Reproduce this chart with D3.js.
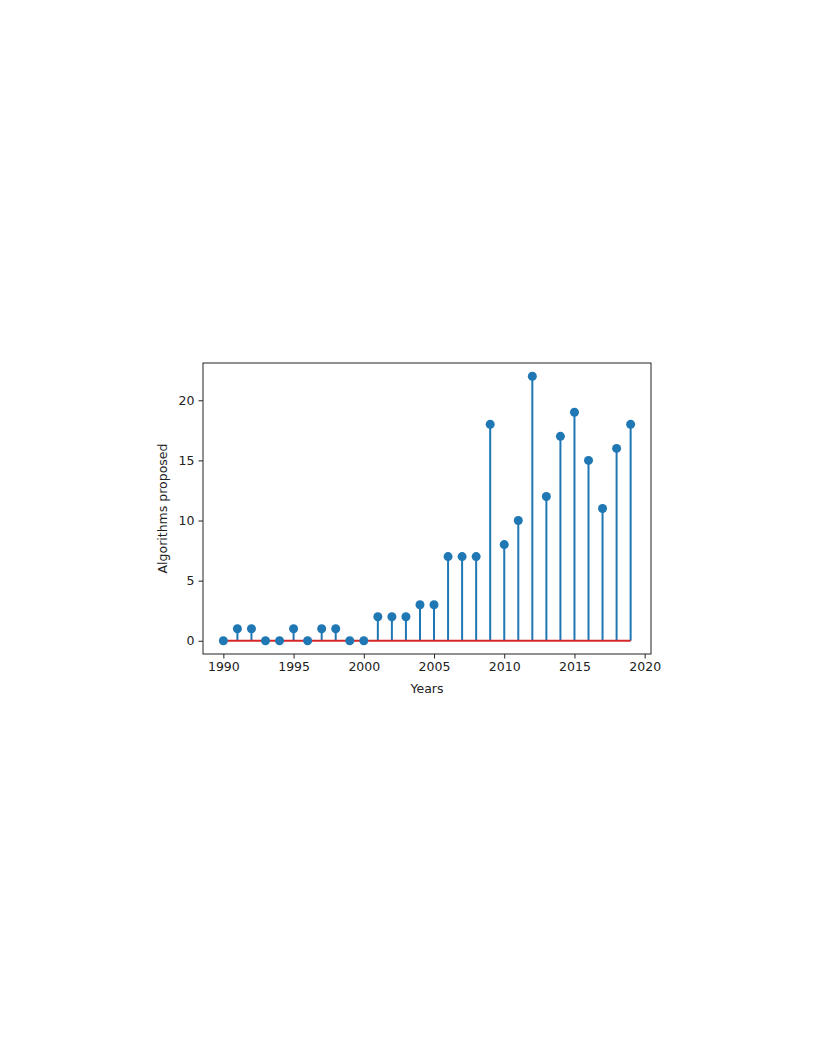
<!DOCTYPE html>
<html>
<head>
<meta charset="utf-8">
<script src="https://cdn.jsdelivr.net/npm/d3@7"></script>
<style>
  body { margin: 0; background: #fff; }
  text { font-family: "DejaVu Sans", sans-serif; fill: #222; }
</style>
</head>
<body>
<script>
// years and number of algorithms proposed each year
const years = d3.range(1990, 2020);
const counts = [0, 1, 1, 0, 0, 1, 0, 1, 1, 0,
                0, 2, 2, 2, 3, 3, 7, 7, 7, 18,
                8, 10, 22, 12, 17, 19, 15, 11, 16, 18];
const xTicks = [1990, 1995, 2000, 2005, 2010, 2015, 2020];
const yTicks = [0, 5, 10, 15, 20];

const width = 817;
const height = 1058;
const margin = { left: 203, top: 363, right: 817 - 651, bottom: 1058 - 654 };

const svg = d3.select("body")
  .append("svg")
  .attr("width", width)
  .attr("height", height);

// matplotlib style 5% padding on both axes
const x = d3.scaleLinear()
  .domain([1990 - 1.45, 2019 + 1.45])
  .range([margin.left, width - margin.right]);

const y = d3.scaleLinear()
  .domain([-1.1, 23.1])
  .range([height - margin.bottom, margin.top]);

const data = years.map((yr, i) => ({ year: yr, value: counts[i] }));

// stems
svg.append("g")
  .selectAll("line")
  .data(data)
  .enter()
  .append("line")
  .attr("x1", (d) => x(d.year))
  .attr("x2", (d) => x(d.year))
  .attr("y1", y(0))
  .attr("y2", (d) => y(d.value))
  .attr("stroke", "#1f77b4")
  .attr("stroke-width", 2);

// baseline
svg.append("line")
  .attr("x1", x(years[0]))
  .attr("x2", x(years[years.length - 1]))
  .attr("y1", y(0))
  .attr("y2", y(0))
  .attr("stroke", "#d62728")
  .attr("stroke-width", 2);

// markers
svg.append("g")
  .selectAll("circle")
  .data(data)
  .enter()
  .append("circle")
  .attr("cx", (d) => x(d.year))
  .attr("cy", (d) => y(d.value))
  .attr("r", 4.5)
  .attr("fill", "#1f77b4");

// axes
const xAxis = svg.append("g")
  .attr("transform", "translate(0," + (height - margin.bottom) + ")")
  .call(d3.axisBottom(x).tickValues(xTicks).tickFormat(d3.format("d")).tickSize(4.5).tickPadding(4));

const yAxis = svg.append("g")
  .attr("transform", "translate(" + margin.left + ",0)")
  .call(d3.axisLeft(y).tickValues(yTicks).tickSize(4.5).tickPadding(4));

[xAxis, yAxis].forEach((a) => {
  a.select(".domain").remove();
  a.selectAll("line").attr("stroke", "#222");
  a.selectAll("text").style("font-size", "12.5px").attr("fill", "#222");
});

// frame
svg.append("rect")
  .attr("x", margin.left)
  .attr("y", margin.top)
  .attr("width", width - margin.left - margin.right)
  .attr("height", height - margin.top - margin.bottom)
  .attr("fill", "none")
  .attr("stroke", "#222")
  .attr("stroke-width", 1);

// labels
svg.append("text")
  .attr("x", (margin.left + width - margin.right) / 2)
  .attr("y", 693)
  .attr("text-anchor", "middle")
  .style("font-size", "12.5px")
  .text("Years");

svg.append("text")
  .attr("transform", "translate(167," + (margin.top + height - margin.bottom) / 2 + ") rotate(-90)")
  .attr("text-anchor", "middle")
  .style("font-size", "12.5px")
  .text("Algorithms proposed");
</script>
</body>
</html>
